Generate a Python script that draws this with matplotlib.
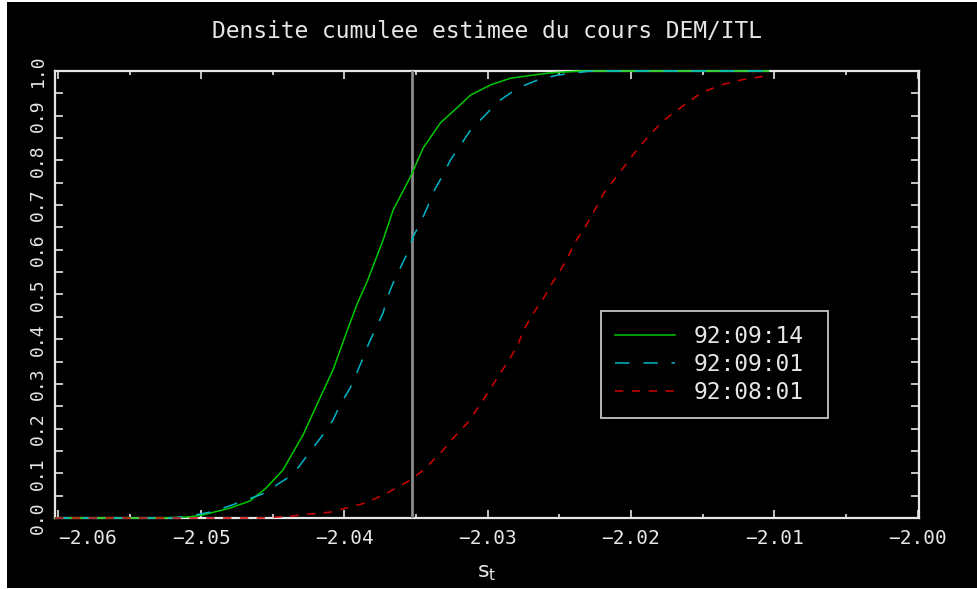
import numpy as np
import matplotlib
matplotlib.use("Agg")
import matplotlib.pyplot as plt
from matplotlib.patches import Rectangle
from matplotlib.ticker import MultipleLocator, FuncFormatter

plt.rcParams['font.family'] = ['DejaVu Sans Mono', 'DejaVu Sans']

# --- data ------------------------------------------------------------------
labels = ["92:09:14", "92:09:01", "92:08:01"]

x_0914 = [-2.0602, -2.0530, -2.0510, -2.0500, -2.0480, -2.0466, -2.0455, -2.0443,
          -2.0429, -2.0418, -2.0408, -2.0398, -2.0391, -2.0384, -2.0373, -2.0366,
          -2.0354, -2.0345, -2.0333, -2.0321, -2.0312, -2.0298, -2.0284, -2.0268,
          -2.0256, -2.0235, -2.0104]
p_0914 = [0.0, 0.0, 0.002, 0.006, 0.022, 0.038, 0.066, 0.107,
          0.185, 0.262, 0.331, 0.420, 0.480, 0.530, 0.622, 0.689,
          0.763, 0.828, 0.884, 0.919, 0.946, 0.969, 0.984, 0.991,
          0.996, 1.0, 1.0]

x_0901 = [-2.0602, -2.0520, -2.0507, -2.0494, -2.0482, -2.0457, -2.0440, -2.0432,
          -2.0422, -2.0415, -2.0408, -2.0403, -2.0396, -2.0392, -2.0387, -2.0383,
          -2.0378, -2.0373, -2.0370, -2.0366, -2.0356, -2.0352, -2.0347, -2.0342,
          -2.0338, -2.0332, -2.0326, -2.0319, -2.0312, -2.0303, -2.0293, -2.0279,
          -2.0265, -2.0251, -2.0228, -2.0104]
p_0901 = [0.0, 0.0, 0.005, 0.013, 0.025, 0.054, 0.089, 0.114,
          0.157, 0.186, 0.219, 0.253, 0.291, 0.320, 0.358, 0.391,
          0.425, 0.459, 0.494, 0.526, 0.593, 0.630, 0.660, 0.696,
          0.729, 0.763, 0.801, 0.834, 0.868, 0.897, 0.931, 0.962,
          0.980, 0.991, 1.0, 1.0]

x_0801 = [-2.0602, -2.0459, -2.0438, -2.0424, -2.0410, -2.0399, -2.0385, -2.0370,
          -2.0354, -2.0345, -2.0333, -2.0324, -2.0314, -2.0307, -2.0300, -2.0293,
          -2.0286, -2.0279, -2.0275, -2.0268, -2.0261, -2.0255, -2.0249, -2.0244,
          -2.0239, -2.0232, -2.0226, -2.0219, -2.0212, -2.0205, -2.0197, -2.0187,
          -2.0177, -2.0165, -2.0151, -2.0137, -2.0123, -2.0106]
p_0801 = [0.0, 0.0, 0.004, 0.009, 0.013, 0.022, 0.034, 0.056,
          0.085, 0.107, 0.145, 0.179, 0.213, 0.246, 0.280, 0.315,
          0.349, 0.387, 0.420, 0.459, 0.492, 0.526, 0.555, 0.584,
          0.617, 0.651, 0.685, 0.727, 0.756, 0.785, 0.819, 0.857,
          0.890, 0.919, 0.951, 0.969, 0.980, 0.989]

x_marker = -2.0353
x_range = (-2.0602, -1.9999)

# --- figure ------------------------------------------------------------------
fg = "#e6e6e6"
fig = plt.figure(figsize=(9.77, 5.89), dpi=100, facecolor="white")
# black plotting window, thin white margin on the left/top like the screenshot
fig.patches.append(Rectangle((7 / 977, 0.002), 1 - 7 / 977, 1 - 0.002 - 2 / 589,
                             transform=fig.transFigure, facecolor="black",
                             edgecolor="none", zorder=-10))
ax = fig.add_axes([55 / 977, 71 / 589, 864 / 977, 447 / 589])
ax.set_zorder(1)
ax.set_facecolor("black")

lw = 1.1
ax.plot(x_0914, p_0914, color="#00c800", lw=lw, label=labels[0],
        clip_on=False, zorder=4)
ax.plot(x_0901, p_0901, color="#00b4c8", lw=lw, dashes=(9.5, 9), label=labels[1],
        clip_on=False, zorder=4)
ax.plot(x_0801, p_0801, color="#d20000", lw=lw, dashes=(5.5, 5.5), label=labels[2],
        clip_on=False, zorder=4)
ax.axvline(x_marker, color="#8c8c8c", lw=2, zorder=3)

ax.set_xlim(*x_range)
ax.set_ylim(0, 1)
ax.xaxis.set_major_locator(MultipleLocator(0.01))
ax.xaxis.set_minor_locator(MultipleLocator(0.005))
ax.yaxis.set_major_locator(MultipleLocator(0.1))
ax.yaxis.set_minor_locator(MultipleLocator(0.05))
ax.xaxis.set_major_formatter(FuncFormatter(lambda v, _: f"{v:.2f}".replace("-", "\u2212")))
ax.yaxis.set_major_formatter(FuncFormatter(lambda v, _: f"{v:.1f}"))

for s in ax.spines.values():
    s.set_color(fg)
    s.set_linewidth(1.6)
ax.tick_params(which="both", direction="in", colors=fg, top=True, right=True)
ax.tick_params(axis="x", which="major", length=6, width=1.2, pad=8, labelsize=14)
ax.tick_params(axis="x", which="minor", length=3, width=1.2)
ax.tick_params(axis="y", which="both", length=6, width=1.2, pad=6, labelsize=13)
for t in ax.get_yticklabels():
    t.set_rotation(90)
    t.set_va("center")

ax.set_title("Densite cumulee estimee du cours DEM/ITL", color=fg,
             fontsize=16.5, pad=24)
ax.set_xlabel(r"$\mathrm{s_t}$", color=fg, fontsize=16, labelpad=11)

leg = ax.legend(loc="lower left", bbox_to_anchor=(0.632, 0.224, 0.263, 0.244),
                mode="expand", fontsize=16.5, frameon=True, fancybox=False,
                handlelength=2.6, handletextpad=0.83, labelspacing=0.2,
                borderpad=0.62, borderaxespad=0)
leg.get_frame().set_facecolor("black")
leg.get_frame().set_edgecolor(fg)
leg.get_frame().set_linewidth(1.4)
for t in leg.get_texts():
    t.set_color(fg)

# leftmost x label sits inside the axis, as in the original
fig.canvas.draw()
for tick in ax.xaxis.get_major_ticks():
    if abs(tick.get_loc() - (-2.06)) < 1e-6:
        tick.label1.set_horizontalalignment("left")

fig.savefig("out.png", dpi=100, facecolor=fig.get_facecolor())
